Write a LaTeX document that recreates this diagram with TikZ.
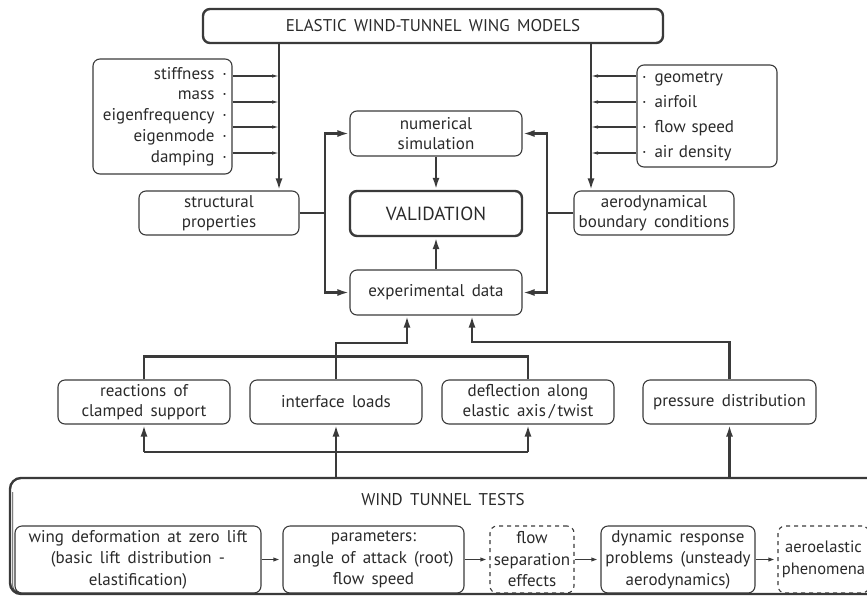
\documentclass[tikz,border=0pt]{standalone}
\usepackage{fontspec}
\setmainfont[WordSpace=1.6]{PT Sans}
\usetikzlibrary{arrows.meta}
\definecolor{ln}{HTML}{3A3A3A}
\definecolor{tx}{HTML}{2A2A2A}
\newcommand\fsN{\fontsize{17}{20}\selectfont}
\begin{document}
\begin{tikzpicture}[x=1pt,y=-1pt,
  every node/.style={text=tx, font=\fsN},
  box/.style={draw=ln, line width=1.1pt, rounded corners=7pt, align=center, inner sep=0pt},
  hbox/.style={box, line width=2.4pt},
  dbox/.style={box, dash pattern=on 4pt off 4pt},
  conn/.style={draw=ln, line width=2.5pt, -{Latex[length=12pt,width=7pt]}},
  link/.style={draw=ln, line width=2.5pt},
  fin/.style={draw=ln, line width=1.1pt, -{Latex[length=7pt,width=3.5pt]}},
  mid/.style={draw=ln, line width=1.8pt, -{Latex[length=9pt,width=4pt]}}]
\useasboundingbox (0,0) rectangle (867,595);

% top
\node[hbox, minimum width=460pt, minimum height=34pt, font=\fontsize{17}{20}\selectfont] (top) at (433,26) {ELASTIC WIND-TUNNEL WING MODELS};

% property lists
\node[box, minimum width=139pt, minimum height=115pt, text width=129pt, align=right, font=\fontsize{17}{20.75}\selectfont] (lprop) at (162.5,116.5)
  {stiffness\hspace{8pt}·\\mass\hspace{8pt}·\\eigenfrequency\hspace{8pt}·\\eigenmode\hspace{8pt}·\\damping\hspace{8pt}·};
\node[box, minimum width=140pt, minimum height=102pt, text width=130pt, align=left, font=\fontsize{17}{25}\selectfont] (rprop) at (707,116)
  {·\hspace{8pt}geometry\\·\hspace{8pt}airfoil\\·\hspace{8pt}flow speed\\·\hspace{8pt}air density};

\coordinate (l1) at (279,76);  \coordinate (l2) at (279,102);
\coordinate (l3) at (279,127); \coordinate (l4) at (279,153);
\coordinate (r1) at (591,76);  \coordinate (r2) at (591,102);
\coordinate (r3) at (591,127); \coordinate (r4) at (591,153);

% central column
\node[box, minimum width=172pt, minimum height=45pt] (num) at (436,133.5) {numerical\\simulation};
\node[hbox, minimum width=172pt, minimum height=45pt, font=\fontsize{19}{22}\selectfont] (val) at (436,213.5) {VALIDATION};
\node[box, minimum width=172pt, minimum height=45pt] (exp) at (436,292.5) {experimental data};
\node[box, minimum width=160pt, minimum height=44pt] (struct) at (219,213) {structural\\properties};
\node[box, minimum width=160pt, minimum height=44pt] (aero) at (654,213) {aerodynamical\\boundary conditions};

% middle row
\node[box, minimum width=172pt, minimum height=44pt] (react) at (144,402) {reactions of\\clamped support};
\node[box, minimum width=172pt, minimum height=44pt] (iface) at (336,402) {interface loads};
\node[box, minimum width=172pt, minimum height=44pt] (defl) at (528,402) {deflection along\\elastic axis\,/\,twist};
\node[box, minimum width=173pt, minimum height=44pt] (press) at (729.5,402) {pressure distribution};

% wind tunnel tests
\node[hbox, line width=2.4pt, minimum width=870pt, minimum height=116pt, rounded corners=11pt] (wt) at (445,536) {};
\draw[ln, line width=0.8pt] (12.8,492) -- (12.8,586) arc[start angle=180, end angle=270, radius=6pt];
\node[font=\fontsize{17}{20}\selectfont] (wtt) at (443,500) {WIND TUNNEL TESTS};

\node[box, minimum width=246pt, minimum height=67pt, font=\fontsize{17}{21.5}\selectfont] (wing) at (138,559.5) {wing deformation at zero lift\\(basic lift distribution -\\elastification)};
\node[box, minimum width=181pt, minimum height=67pt, font=\fontsize{17}{21.5}\selectfont] (par) at (373.5,559.5) {parameters:\\angle of attack (root)\\flow speed};
\node[dbox, minimum width=84pt, minimum height=67pt, font=\fontsize{17}{21.5}\selectfont] (flow) at (532,559.5) {flow\\separation\\effects};
\node[box, minimum width=154pt, minimum height=67pt, font=\fontsize{17}{21.5}\selectfont] (dyn) at (678,559.5) {dynamic response\\problems (unsteady\\aerodynamics)};
\node[dbox, minimum width=91pt, minimum height=67pt, font=\fontsize{16.5}{21.5}\selectfont] (ael) at (823.5,559.5) {aeroelastic\\phenomena};

% connectors: top part
\draw[conn] (top.south -| l1) -- (struct.north -| l1);
\draw[conn] (top.south -| r1) -- (aero.north -| r1);
\foreach \i in {1,2,3,4} {
  \draw[fin] (lprop.east |- l\i) -- (l\i);
  \draw[fin] (rprop.west |- r\i) -- (r\i);
}

\coordinate (lv) at (325,213);
\coordinate (rv) at (547,213);
\draw[link] (struct.east) -- (lv);
\draw[conn] (lv) |- (num.west);
\draw[conn] (lv) |- (exp.west);
\draw[link] (aero.west) -- (rv);
\draw[conn] (rv) |- (num.east);
\draw[conn] (rv) |- (exp.east);
\draw[conn] (num) -- (val);
\draw[conn] (exp) -- (val);

% middle connectors
\coordinate (j1) at (407,343);
\coordinate (j3) at (472,342);
\draw[conn] (iface.north) |- (j1) -- (exp.south -| j1);
\draw[conn] (press.north) |- (j3) -- (exp.south -| j3);
\draw[link] (react.north) -- ++(0,-23) -| (defl.north);

% lower connectors
\coordinate (hb) at (336,452);
\draw[link] (hb -| react.south) -- (hb -| defl.south);
\draw[conn] (hb -| react.south) -- (react.south);
\draw[conn] (hb -| defl.south) -- (defl.south);
\draw[conn] (iface.south |- wt.north) -- (iface.south);
\draw[conn] (press.south |- wt.north) -- (press.south);

% bottom row
\draw[mid] (wing) -- (par);
\draw[mid] (par) -- (flow);
\draw[mid] (flow) -- (dyn);
\draw[mid] (dyn) -- (ael);
\end{tikzpicture}
\end{document}
